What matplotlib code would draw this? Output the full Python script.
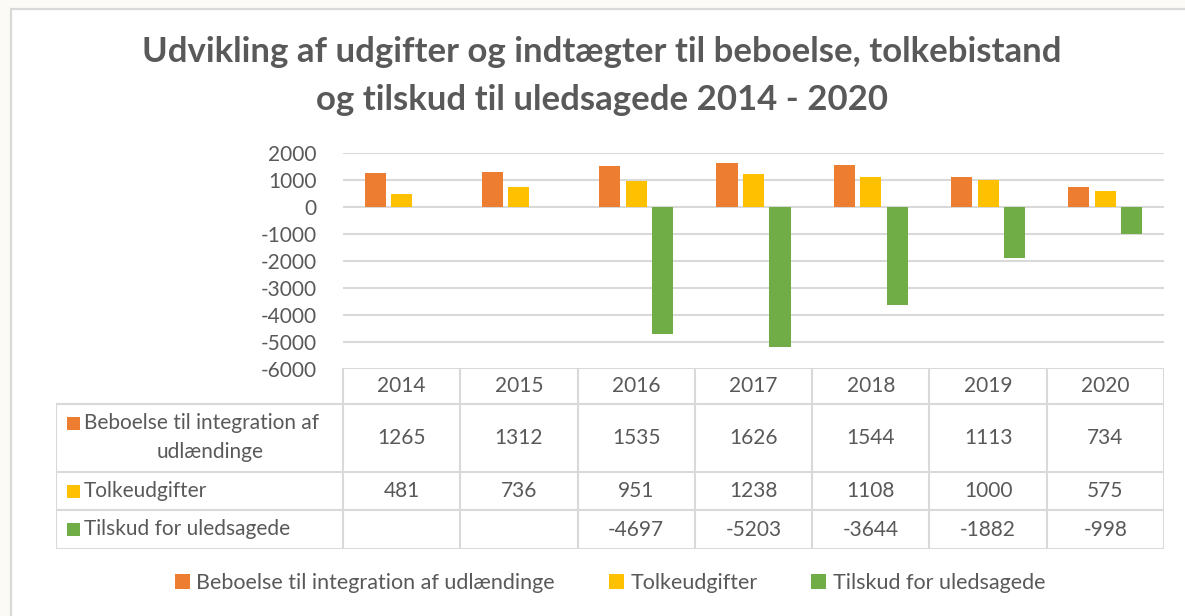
import matplotlib.pyplot as plt
from matplotlib.patches import Rectangle, Patch

# ---- data ----
years = ["2014", "2015", "2016", "2017", "2018", "2019", "2020"]
beboelse = [1265, 1312, 1535, 1626, 1544, 1113, 734]
tolk = [481, 736, 951, 1238, 1108, 1000, 575]
tilskud = [None, None, -4697, -5203, -3644, -1882, -998]
series_names = ["Beboelse til integration af udlændinge", "Tolkeudgifter", "Tilskud for uledsagede"]
colors = ["#ED7D31", "#FFC000", "#70AD47"]
yticks = [2000, 1000, 0, -1000, -2000, -3000, -4000, -5000, -6000]

W, H = 1185, 616
txt = "#595959"
grid = "#D9D9D9"
font = "Lato"

fig = plt.figure(figsize=(W / 100, H / 100), dpi=100, facecolor="#FCFAF7")

# white chart frame
fig.patches.append(Rectangle((11 / W, -0.02), 1.1, 1 - 9 / H + 0.02, transform=fig.transFigure,
                             facecolor="white", edgecolor=grid, lw=1.6, zorder=-5))

def fx(px):
    return px / W

def fy(py):
    return 1 - py / H

# plot area
left, right, top, bottom = 343, 1164, 153, 369
ax = fig.add_axes([fx(left), fy(bottom), fx(right - left), (bottom - top) / H])
ax.set_facecolor("none")
x = range(len(years))
bw = 0.18
off = 0.226
for k, vals in enumerate([beboelse, tolk, tilskud]):
    xs = [i + (k - 1) * off for i, v in zip(x, vals) if v is not None]
    vs = [v for v in vals if v is not None]
    ax.bar(xs, vs, width=bw, color=colors[k], zorder=3)
ax.set_xlim(-0.5, len(years) - 0.5)
ax.set_ylim(-6000, 2000)
ax.set_yticks(yticks)
ax.set_yticklabels([str(t) for t in yticks], fontsize=15, color=txt, family=font)
ax.tick_params(axis="y", length=0, pad=19)
ax.set_xticks([])
for t in yticks:
    ax.axhline(t, color=grid, lw=1.5, zorder=1)
for s in ax.spines.values():
    s.set_visible(False)

# data table
tb_left, tb_top, tb_bottom = 56, 368, 549
rows = [368, 404, 472, 510, 549]
tax = fig.add_axes([fx(tb_left), fy(tb_bottom), fx(right - tb_left), (tb_bottom - tb_top) / H])
tax.set_xlim(tb_left, right)
tax.set_ylim(tb_bottom, tb_top)
tax.axis("off")
colw = (right - left) / len(years)
lc = dict(color=grid, lw=1.5, solid_capstyle="projecting")
# horizontal lines
tax.plot([left, right], [rows[0], rows[0]], **lc)
for r in rows[1:]:
    tax.plot([tb_left, right], [r, r], **lc)
# vertical lines
tax.plot([tb_left, tb_left], [rows[1], rows[-1]], **lc)
for i in range(len(years) + 1):
    xv = left + i * colw
    tax.plot([xv, xv], [rows[0], rows[-1]], **lc)

fs = 15
for i, yr in enumerate(years):
    cx = left + (i + 0.5) * colw
    tax.text(cx, (rows[0] + rows[1]) / 2, yr, ha="center", va="center", fontsize=fs, color=txt, family=font)
    for r, vals in enumerate([beboelse, tolk, tilskud]):
        v = vals[i]
        if v is not None:
            tax.text(cx, (rows[r + 1] + rows[r + 2]) / 2, str(v), ha="center", va="center",
                     fontsize=fs, color=txt, family=font)

# row labels
sq = 13
label_rows = [(423, "Beboelse til integration af"), (491, series_names[1]), (529, series_names[2])]
for k, (yc, lab) in enumerate(label_rows):
    tax.add_patch(Rectangle((67, yc - sq / 2), sq, sq, facecolor=colors[k], edgecolor="none"))
    tax.text(84, yc, lab, ha="left", va="center", fontsize=fs, color=txt, family=font)
tax.text(210, 452, "udlændinge", ha="center", va="center", fontsize=fs, color=txt, family=font)

# title
fig.text(fx(602), fy(52), "Udvikling af udgifter og indtægter til beboelse, tolkebistand",
         ha="center", va="center", fontsize=25, fontweight="bold", color=txt, family=font)
fig.text(fx(602), fy(100), "og tilskud til uledsagede 2014 - 2020",
         ha="center", va="center", fontsize=25, fontweight="bold", color=txt, family=font)

# legend
handles = [Patch(facecolor=c, edgecolor="none") for c in colors]
fig.legend(handles, series_names, loc="center", bbox_to_anchor=(fx(610), fy(583)), ncol=3,
           frameon=False, prop={"family": font, "size": 15.5}, labelcolor=txt,
           handlelength=0.7, handleheight=0.7, handletextpad=0.3, columnspacing=2.5)

fig.savefig("out.png", dpi=100, facecolor=fig.get_facecolor())
